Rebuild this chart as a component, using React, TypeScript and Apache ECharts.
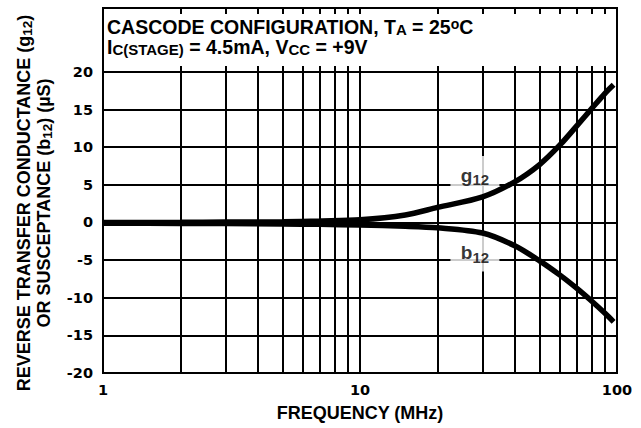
import React, { useEffect, useRef } from "react";
import * as echarts from "echarts";

const freqs = [1, 2, 3, 5, 7, 10, 15, 20, 30, 40, 50, 60, 70, 80, 90, 97];
const g12 = [0, 0.02, 0.05, 0.1, 0.2, 0.35, 1.0, 2.0, 3.4, 5.4, 7.7, 10.3, 12.9, 15.2, 17.2, 18.3];
const b12 = [-0.1, -0.12, -0.15, -0.2, -0.25, -0.35, -0.5, -0.7, -1.4, -3.1, -5.1, -7.0, -8.8, -10.5, -12.1, -13.2];

const gridFreqs = [2, 3, 4, 5, 6, 7, 8, 9, 10, 20, 30, 40, 50, 60, 70, 80, 90];
const gridValues = [-15, -10, -5, 0, 5, 10, 15, 20];
const yTickLabels = [-20, -15, -10, -5, 0, 5, 10, 15, 20];
const labelPoints = [
  { name: "g12", at: [28, 6.3] },
  { name: "b12", at: [28, -4.0] },
];

const FONT = "'Liberation Sans', Arial, Helvetica, sans-serif";
const TICK_FONT = "'DejaVu Sans', sans-serif";
const Y_MIN = -20;
const Y_TOP = 20;
const Y_MAX = 28.5;

export default function App() {
  const ref = useRef<HTMLDivElement>(null);
  useEffect(() => {
    if (!ref.current) return;
    const chart = echarts.init(ref.current, null, { renderer: "svg" });

    const lineSegs: any[] = [];
    gridFreqs.forEach((f) => {
      lineSegs.push([{ coord: [f, Y_MIN] }, { coord: [f, Y_TOP] }]);
      lineSegs.push([{ coord: [f, Y_TOP] }, { coord: [f, Y_TOP + 0.8] }]);
      lineSegs.push([{ coord: [f, Y_MAX] }, { coord: [f, Y_MAX - 0.8] }]);
    });
    gridValues.forEach((v) => {
      lineSegs.push([{ coord: [1, v] }, { coord: [100, v] }]);
    });

    const headRich = {
      t: { fontFamily: FONT, fontWeight: "bold", fontSize: 19.5, color: "#000", lineHeight: 20 },
      sub: { fontFamily: FONT, fontWeight: "bold", fontSize: 15, color: "#000", lineHeight: 14, verticalAlign: "bottom" },
      sup: { fontFamily: FONT, fontWeight: "bold", fontSize: 14, color: "#000", lineHeight: 13, verticalAlign: "top" },
    };
    const titleRich = {
      t: { fontFamily: FONT, fontWeight: "bold", fontSize: 18, color: "#000", lineHeight: 20 },
      sub: { fontFamily: FONT, fontWeight: "bold", fontSize: 13.5, color: "#000", lineHeight: 13, verticalAlign: "bottom" },
    };

    chart.setOption({
      animation: false,
      backgroundColor: "#fff",
      title: {
        left: 107,
        top: 17,
        padding: 0,
        text:
          "{t|CASCODE CONFIGURATION, T}{sub|A}{t| = 25}{sup|o}{t|C}\n{t|I}{sub|C(STAGE)}{t| = 4.5mA, V}{sub|CC}{t| = +9V}",
        textStyle: { rich: headRich, lineHeight: 20 },
      },
      grid: {
        left: 103,
        right: 24,
        top: 8,
        bottom: 55,
        containLabel: false,
        outerBoundsMode: "none",
        show: true,
        borderColor: "#000",
        borderWidth: 2,
        backgroundColor: "transparent",
      },
      xAxis: {
        type: "log",
        logBase: 10,
        min: 1,
        max: 100,
        name: "FREQUENCY (MHz)",
        nameLocation: "middle",
        nameGap: 31,
        nameTextStyle: { fontFamily: FONT, fontWeight: "bold", fontSize: 18, color: "#000" },
        axisLine: { show: false },
        axisTick: { show: false },
        splitLine: { show: false },
        axisLabel: { fontFamily: TICK_FONT, fontWeight: "bold", fontSize: 14.5, color: "#000", margin: 9 },
      },
      yAxis: {
        type: "value",
        min: Y_MIN,
        max: Y_MAX,
        interval: 5,
        axisLine: { show: false },
        axisTick: { show: false },
        splitLine: { show: false },
        axisLabel: {
          fontFamily: TICK_FONT,
          fontWeight: "bold",
          fontSize: 14.5,
          color: "#000",
          margin: 10,
          formatter: (v: number) => (yTickLabels.includes(v) ? String(v) : ""),
        },
      },
      graphic: [
        {
          type: "text",
          x: 34,
          y: 203,
          rotation: Math.PI / 2,
          style: {
            text:
              "{t|REVERSE TRANSFER CONDUCTANCE (g}{sub|12}{t|)}\n{t|OR SUSCEPTANCE (b}{sub|12}{t|) (µS)}",
            rich: titleRich,
            align: "center",
            verticalAlign: "middle",
          },
        },
      ],
      series: [
        {
          type: "line",
          data: [],
          silent: true,
          z: 2,
          markLine: {
            silent: true,
            z: 2,
            symbol: ["none", "none"],
            label: { show: false },
            lineStyle: { color: "#000", width: 2, type: "solid" },
            data: lineSegs,
          },
        },
        {
          type: "scatter",
          z: 3,
          silent: true,
          symbol: "rect",
          symbolSize: [49, 38],
          itemStyle: { color: "#fff", borderWidth: 0 },
          data: labelPoints.map((p) => ({
            value: p.at,
            label: {
              show: true,
              position: "inside",
              formatter: "{t|" + p.name.charAt(0) + "}{sub|" + p.name.slice(1) + "}",
              rich: {
                t: { fontFamily: FONT, fontWeight: "bold", fontSize: 19, color: "#000", lineHeight: 24 },
                sub: { fontFamily: FONT, fontWeight: "bold", fontSize: 15, color: "#000", lineHeight: 15, verticalAlign: "bottom" },
              },
            },
          })),
        },
        {
          type: "line",
          name: "g12",
          z: 6,
          smooth: 0.3,
          symbol: "none",
          lineStyle: { color: "#000", width: 5.5 },
          data: freqs.map((f, i) => [f, g12[i]]),
        },
        {
          type: "line",
          name: "b12",
          z: 6,
          smooth: 0.3,
          symbol: "none",
          lineStyle: { color: "#000", width: 5.5 },
          data: freqs.map((f, i) => [f, b12[i]]),
        },
      ],
    });
    return () => chart.dispose();
  }, []);
  return (
    <div
      ref={ref}
      style={{ position: "absolute", left: 0, top: 0, width: 641, height: 428 }}
    />
  );
}
